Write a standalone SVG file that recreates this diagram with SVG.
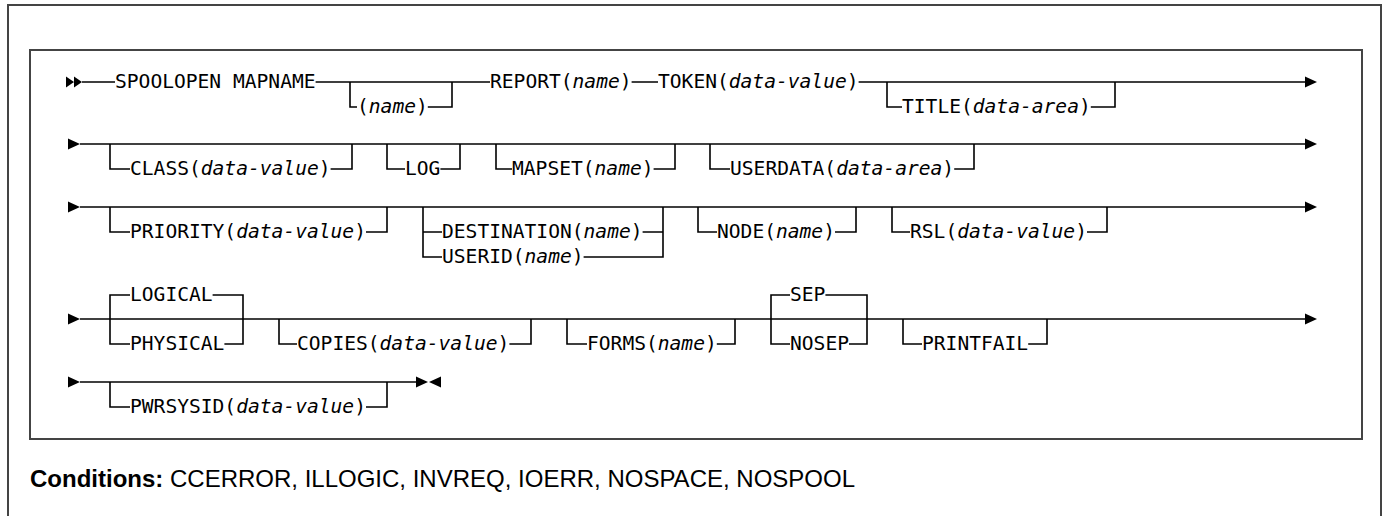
<svg xmlns="http://www.w3.org/2000/svg" xmlns:xlink="http://www.w3.org/1999/xlink" width="1385" height="516" viewBox="0 0 1385 516">
<style>
.bg{fill:#fff}
.box{fill:none;stroke:#444;stroke-width:2}
.ln{fill:none;stroke:#000;stroke-width:1.6;stroke-linecap:butt;stroke-linejoin:miter}
.ah{fill:#000;stroke:none}
.t{font-family:"DejaVu Sans Mono","Liberation Mono",monospace;font-size:19.6px;fill:#000}
.i{font-style:italic}
.c{font-family:"Liberation Sans",Arial,sans-serif;font-size:24px;fill:#000}
.b{font-weight:bold}
</style>
<defs>
<path id="ar" class="ah" d="M-12,-5.5 L0,0 L-12,5.5 Z"/>
<path id="al" class="ah" d="M12,-5.5 L0,0 L12,5.5 Z"/>
<path id="dd" class="ah" d="M-16,-5.5 L-8,0 L-16,5.5 Z M-8,-5.5 L0,0 L-8,5.5 Z"/>
</defs>
<rect class="bg" x="0" y="0" width="1385" height="516"/>
<rect class="box" x="8" y="5" width="1373" height="600"/>
<rect class="box" x="30" y="50" width="1332" height="389"/>

<g id="connectors">
<!-- row 1 -->
<use href="#dd" x="82" y="82"/>
<path class="ln" d="M82,82 H115 M315.6,82 H490 M631.6,82 H658 M858.6,82 H1306"/>
<use href="#ar" x="1317" y="82"/>
<path class="ln" d="M350,82 V107 H357 M427.8,107 H452 V82"/>
<path class="ln" d="M887,82 V107 H902 M1090.8,107 H1115 V82"/>
<!-- row 2 -->
<use href="#ar" x="80" y="144"/>
<path class="ln" d="M80,144 H1306"/>
<use href="#ar" x="1317" y="144"/>
<path class="ln" d="M110,144 V169 H130 M330.6,169 H352 V144"/>
<path class="ln" d="M387,144 V169 H405 M440.4,169 H460 V144"/>
<path class="ln" d="M496,144 V169 H512 M653.6,169 H675 V144"/>
<path class="ln" d="M710,144 V169 H730 M954.2,169 H974 V144"/>
<!-- row 3 -->
<use href="#ar" x="80" y="207"/>
<path class="ln" d="M80,207 H1306"/>
<use href="#ar" x="1317" y="207"/>
<path class="ln" d="M110,207 V232 H130 M366,232 H387 V207"/>
<path class="ln" d="M423,207 V257 H442 M423,232 H442 M642.6,232 H663 M583.6,257 H663 V207"/>
<path class="ln" d="M698,207 V232 H717 M835,232 H856 V207"/>
<path class="ln" d="M892,207 V232 H910 M1087,232 H1107 V207"/>
<!-- row 4 -->
<use href="#ar" x="80" y="319"/>
<path class="ln" d="M80,319 H1306"/>
<use href="#ar" x="1317" y="319"/>
<path class="ln" d="M130,295 H110 V344 H130 M212.6,295 H243 V344 H224.4"/>
<path class="ln" d="M279,319 V344 H297 M509.4,344 H531 V319"/>
<path class="ln" d="M567,319 V344 H587 M716.8,344 H735 V319"/>
<path class="ln" d="M790,295 H771 V344 H790 M825.4,295 H867 V344 H849"/>
<path class="ln" d="M903,319 V344 H922 M1028.2,344 H1047 V319"/>
<!-- row 5 -->
<use href="#ar" x="80" y="382"/>
<path class="ln" d="M80,382 H417"/>
<use href="#ar" x="428" y="382"/>
<use href="#al" x="429" y="382"/>
<path class="ln" d="M110,382 V407 H130 M366,407 H387 V382"/>
</g>

<g id="n-spoolopen"><text class="t" x="115" y="88">SPOOLOPEN MAPNAME</text></g>
<g id="n-mapname-name"><text class="t" x="357" y="113">(<tspan class="i">name</tspan>)</text></g>
<g id="n-report"><text class="t" x="490" y="88">REPORT(<tspan class="i">name</tspan>)</text></g>
<g id="n-token"><text class="t" x="658" y="88">TOKEN(<tspan class="i">data-value</tspan>)</text></g>
<g id="n-title"><text class="t" x="902" y="113">TITLE(<tspan class="i">data-area</tspan>)</text></g>

<g id="n-class"><text class="t" x="130" y="175">CLASS(<tspan class="i">data-value</tspan>)</text></g>
<g id="n-log"><text class="t" x="405" y="175">LOG</text></g>
<g id="n-mapset"><text class="t" x="512" y="175">MAPSET(<tspan class="i">name</tspan>)</text></g>
<g id="n-userdata"><text class="t" x="730" y="175">USERDATA(<tspan class="i">data-area</tspan>)</text></g>

<g id="n-priority"><text class="t" x="130" y="238">PRIORITY(<tspan class="i">data-value</tspan>)</text></g>
<g id="n-destination"><text class="t" x="442" y="238">DESTINATION(<tspan class="i">name</tspan>)</text></g>
<g id="n-userid"><text class="t" x="442" y="263">USERID(<tspan class="i">name</tspan>)</text></g>
<g id="n-node"><text class="t" x="717" y="238">NODE(<tspan class="i">name</tspan>)</text></g>
<g id="n-rsl"><text class="t" x="910" y="238">RSL(<tspan class="i">data-value</tspan>)</text></g>

<g id="n-logical"><text class="t" x="130" y="301">LOGICAL</text></g>
<g id="n-physical"><text class="t" x="130" y="350">PHYSICAL</text></g>
<g id="n-copies"><text class="t" x="297" y="350">COPIES(<tspan class="i">data-value</tspan>)</text></g>
<g id="n-forms"><text class="t" x="587" y="350">FORMS(<tspan class="i">name</tspan>)</text></g>
<g id="n-sep"><text class="t" x="790" y="301">SEP</text></g>
<g id="n-nosep"><text class="t" x="790" y="350">NOSEP</text></g>
<g id="n-printfail"><text class="t" x="922" y="350">PRINTFAIL</text></g>

<g id="n-pwrsysid"><text class="t" x="130" y="413">PWRSYSID(<tspan class="i">data-value</tspan>)</text></g>

<g id="conditions"><text class="c" x="30" y="487"><tspan class="b">Conditions:</tspan> CCERROR, ILLOGIC, INVREQ, IOERR, NOSPACE, NOSPOOL</text></g>
</svg>
